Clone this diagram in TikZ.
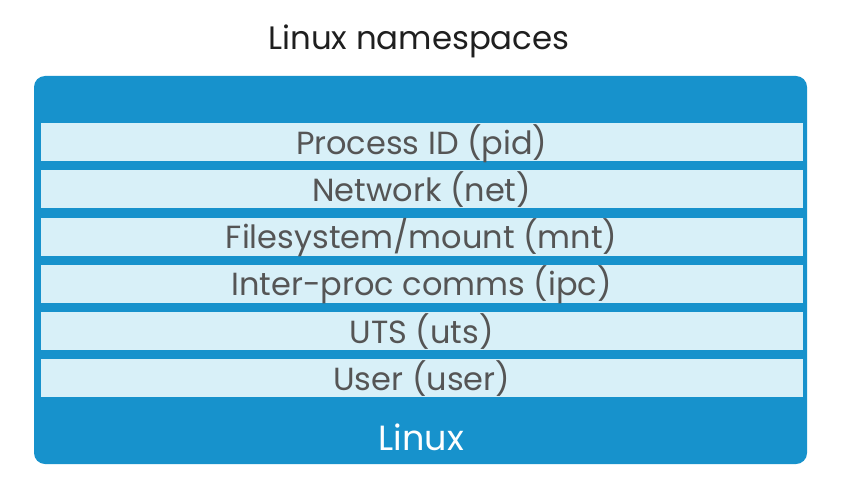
\documentclass[tikz,border=0pt]{standalone}
\usepackage{fontspec}
\setmainfont{Poppins}
\definecolor{outerblue}{HTML}{1792CC}
\definecolor{barblue}{HTML}{D8F0F8}
\definecolor{bartext}{HTML}{555555}
\begin{document}
\begin{tikzpicture}[x=1pt,y=1pt,
  bar/.style={fill=barblue,draw=none,minimum width=762pt,minimum height=38pt,inner sep=0pt,anchor=north west,
    text height=24pt,text depth=0pt,
    font=\fontsize{32}{36}\selectfont,text=bartext},
  title/.style={font=\fontsize{32.4}{38}\selectfont,text=black!88,anchor=base,inner sep=0pt},
  base/.style={font=\fontsize{35}{40}\selectfont,text=white,anchor=base,inner sep=0pt}]
\useasboundingbox (0,0) rectangle (858,491);
\fill[white] (0,0) rectangle (858,491);
\node[title] (t) at (419,441.7) {Linux namespaces};
\fill[outerblue,rounded corners=11pt] (34,27) rectangle (807,415);
\node[bar] (b1) at (40.5,368) {Process ID (pid)};
\node[bar] (b2) at (40.5,320.8) {Network (net)};
\node[bar] (b3) at (40.5,273.6) {Filesystem/mount (mnt)};
\node[bar] (b4) at (40.5,226.4) {Inter-proc comms (ipc)};
\node[bar] (b5) at (40.5,179.2) {UTS (uts)};
\node[bar] (b6) at (40.5,132) {User (user)};
\node[base] (l) at (421.5,41) {Linux};
\end{tikzpicture}
\end{document}
